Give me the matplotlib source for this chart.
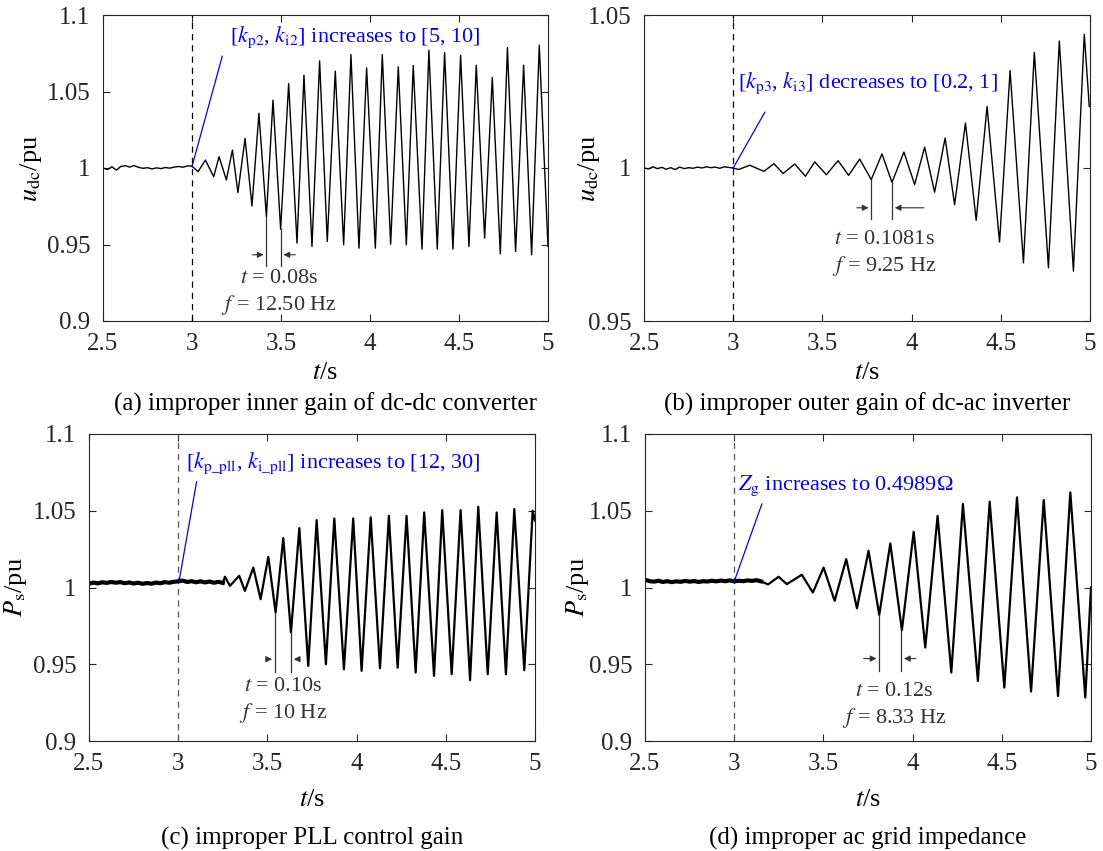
import numpy as np
import matplotlib
matplotlib.use('Agg')
import matplotlib.pyplot as plt
from matplotlib.ticker import FuncFormatter

plt.rcParams['font.family'] = 'serif'
plt.rcParams['font.serif'] = ['Liberation Serif', 'DejaVu Serif']
plt.rcParams['mathtext.fontset'] = 'stix'

# ---- data ----
# noise before the disturbance (sampled every 0.025 s)
noise_t_a = np.arange(2.5, 3.0001, 0.025)
noise_v_a = [1.0000, 0.9990, 1.0008, 0.9986, 1.0010, 1.0015, 1.0006, 1.0016, 1.0004, 0.9998, 1.0002,
             0.9994, 1.0001, 0.9996, 1.0003, 0.9999, 1.0006, 1.0010, 1.0005, 1.0014, 1.0012]
# peaks / troughs after the disturbance
osc_t_a = [3.034, 3.075, 3.122, 3.152, 3.193, 3.227, 3.258, 3.298, 3.337, 3.376, 3.418, 3.455, 3.498,
           3.543, 3.590, 3.629, 3.674, 3.717, 3.760, 3.805, 3.852, 3.893, 3.938, 3.981, 4.030, 4.069,
           4.116, 4.159, 4.204, 4.243, 4.292, 4.331, 4.378, 4.419, 4.466, 4.509, 4.556, 4.597, 4.644,
           4.687, 4.732, 4.772, 4.818, 4.863, 4.908, 4.951, 5.0]
osc_v_a = [0.9976, 1.0052, 0.9943, 1.0074, 0.9922, 1.0117, 0.9839, 1.0193, 0.9752, 1.0357, 0.9683,
           1.0443, 0.9600, 1.0552, 0.9509, 1.0607, 0.9487, 1.0700, 0.9520, 1.0633, 0.9498, 1.0741,
           0.9476, 1.0654, 0.9476, 1.0741, 0.9502, 1.0661, 0.9498, 1.0670, 0.9470, 1.0770, 0.9470,
           1.0754, 0.9470, 1.0737, 0.9487, 1.0672, 0.9541, 1.0591, 0.9439, 1.0787, 0.9454, 1.0672,
           0.9433, 1.0802, 0.9487]

noise_t_b = np.arange(2.5, 3.0001, 0.025)
noise_v_b = [1.0000, 0.9997, 1.0004, 0.9998, 1.0002, 0.9996, 1.0001, 0.9995, 1.0003, 0.9998, 1.0001,
             0.9999, 1.0003, 1.0000, 1.0004, 1.0001, 1.0003, 0.9999, 1.0004, 1.0002, 1.0000]
osc_t_b = [3.030, 3.093, 3.172, 3.228, 3.280, 3.345, 3.405, 3.457, 3.522, 3.588, 3.647, 3.709, 3.774,
           3.834, 3.890, 3.957, 4.017, 4.073, 4.129, 4.188, 4.241, 4.302, 4.362, 4.423, 4.493, 4.552,
           4.627, 4.688, 4.767, 4.828, 4.907, 4.968, 4.996]
osc_v_b = [0.9995, 1.0009, 0.9989, 1.0014, 0.9982, 1.0013, 0.9973, 1.0020, 0.9978, 1.0024, 0.9976,
           1.0029, 0.9962, 1.0046, 0.9953, 1.0052, 0.9946, 1.0068, 0.9921, 1.0098, 0.9880, 1.0147,
           0.9829, 1.0201, 0.9758, 1.0318, 0.9690, 1.0378, 0.9674, 1.0415, 0.9663, 1.0437, 1.0201]

noise_t_c = np.arange(2.5, 3.2501, 0.025)
noise_v_c = [1.0025, 1.0032, 1.0027, 1.0034, 1.0030, 1.0036, 1.0031, 1.0035, 1.0028, 1.0033, 1.0026,
             1.0031, 1.0024, 1.0029, 1.0025, 1.0032, 1.0028, 1.0035, 1.0031, 1.0037, 1.0040, 1.0045,
             1.0036, 1.0041, 1.0034, 1.0040, 1.0033, 1.0039, 1.0031, 1.0037, 1.0030]
osc_t_c = [3.262, 3.290, 3.342, 3.374, 3.421, 3.462, 3.505, 3.546, 3.589, 3.632, 3.679, 3.729, 3.776,
           3.828, 3.875, 3.929, 3.981, 4.028, 4.079, 4.131, 4.181, 4.230, 4.280, 4.331, 4.379, 4.434,
           4.480, 4.533, 4.583, 4.636, 4.682, 4.735, 4.785, 4.837, 4.884, 4.940, 4.987, 5.0]
osc_v_c = [1.0070, 1.0011, 1.0076, 0.9978, 1.0130, 0.9924, 1.0200, 0.9837, 1.0322, 0.9707, 1.0387,
           0.9489, 1.0439, 0.9500, 1.0450, 0.9467, 1.0450, 0.9457, 1.0457, 0.9474, 1.0467, 0.9478,
           1.0467, 0.9446, 1.0489, 0.9424, 1.0504, 0.9435, 1.0504, 0.9396, 1.0526, 0.9435, 1.0489,
           0.9435, 1.0511, 0.9461, 1.0500, 1.0435]

noise_t_d = np.arange(2.5, 3.1501, 0.025)
noise_v_d = [1.0050, 1.0042, 1.0038, 1.0044, 1.0036, 1.0041, 1.0035, 1.0040, 1.0037, 1.0043, 1.0038,
             1.0042, 1.0036, 1.0041, 1.0039, 1.0044, 1.0040, 1.0045, 1.0041, 1.0046, 1.0040, 1.0044,
             1.0041, 1.0046, 1.0043, 1.0048, 1.0040]
osc_t_d = [3.190, 3.249, 3.295, 3.379, 3.441, 3.501, 3.563, 3.628, 3.688, 3.753, 3.813, 3.875, 3.940,
           4.006, 4.071, 4.140, 4.217, 4.282, 4.366, 4.432, 4.514, 4.585, 4.664, 4.735, 4.815, 4.884,
           4.968, 5.0]
osc_v_d = [1.0020, 1.0070, 1.0022, 1.0083, 0.9967, 1.0130, 0.9913, 1.0185, 0.9865, 1.0239, 0.9822,
           1.0287, 0.9722, 1.0363, 0.9609, 1.0467, 0.9446, 1.0544, 0.9391, 1.0559, 0.9348, 1.0587,
           0.9322, 1.0570, 0.9293, 1.0620, 0.9283, 1.0000]

x_ticks = [2.5, 3, 3.5, 4, 4.5, 5]
y_ticks_wide = [0.9, 0.95, 1, 1.05, 1.1]
y_ticks_narrow = [0.95, 1, 1.05]

BLUE = '#0000ff'
GRAY = '#333333'
FS = 16     # annotation text
FS_AX = 18  # ticks, axis labels, captions


def draw_panel(ax, noise_t, noise_v, osc_t, osc_v, lw_noise, lw_osc, ylim, yticks, ylabel, vline_color,
               ylab_x, xlab_y):
    # the dashed line marks the parameter change at t = 3 s
    ax.axvline(3, color=vline_color, ls=(0, (5, 4)), lw=0.9)
    ax.plot(noise_t, noise_v, color='k', lw=lw_noise)
    ax.plot([noise_t[-1]] + list(osc_t), [noise_v[-1]] + list(osc_v), color='k', lw=lw_osc)
    ax.set_xlim(2.5, 5)
    ax.set_ylim(*ylim)
    ax.set_xticks(x_ticks)
    ax.set_yticks(yticks)
    ax.xaxis.set_major_formatter(FuncFormatter(lambda v, p: '%g' % v))
    ax.yaxis.set_major_formatter(FuncFormatter(lambda v, p: '%g' % v))
    ax.tick_params(direction='in', top=True, right=True, length=5, width=0.8,
                   labelsize=FS_AX, colors='#262626', pad=9)
    for s in ax.spines.values():
        s.set_color('#262626')
        s.set_linewidth(0.8)
    ax.set_xlabel(r'$t$/s', fontsize=FS_AX + 1)
    ax.set_ylabel(ylabel, fontsize=FS_AX + 1)
    ax.yaxis.set_label_coords(ylab_x, 0.5)
    ax.xaxis.set_label_coords(0.5, xlab_y)


def draw_period(ax, t1, t2, v1, v2, v_low, v_arrow, left_start, right_start, t_text, v_text1, v_text2,
                txt1, txt2):
    # two vertical markers at neighbouring troughs with inward arrows and the period text
    ax.plot([t1, t1], [v1, v_low], color=GRAY, lw=0.9)
    ax.plot([t2, t2], [v2, v_low], color=GRAY, lw=0.9)
    ax.annotate('', xy=(t1, v_arrow), xytext=(left_start, v_arrow),
                arrowprops=dict(arrowstyle='-|>', color=GRAY, lw=0.8, mutation_scale=9))
    ax.annotate('', xy=(t2, v_arrow), xytext=(right_start, v_arrow),
                arrowprops=dict(arrowstyle='-|>', color=GRAY, lw=0.8, mutation_scale=9))
    ax.text(t_text, v_text1, txt1, ha='center', va='center', fontsize=FS, color=GRAY)
    ax.text(t_text, v_text2, txt2, ha='center', va='center', fontsize=FS, color=GRAY)


def draw_note(ax, text, t_text, v_text, line_from, line_to):
    ax.plot([line_from[0], line_to[0]], [line_from[1], line_to[1]], color=BLUE, lw=0.9)
    ax.text(t_text, v_text, text, ha='left', va='center', fontsize=FS, color=BLUE)


fig = plt.figure(figsize=(11.03, 8.51), dpi=100)
W, H = 1103.0, 851.0
ax_a = fig.add_axes([103 / W, 1 - 321 / H, 445 / W, 306 / H])
ax_b = fig.add_axes([644 / W, 1 - 321 / H, 446 / W, 306 / H])
ax_c = fig.add_axes([89 / W, 1 - 741 / H, 446 / W, 307 / H])
ax_d = fig.add_axes([645 / W, 1 - 741 / H, 446 / W, 307 / H])

draw_panel(ax_a, noise_t_a, noise_v_a, osc_t_a, osc_v_a, 1.0, 1.0, (0.9, 1.1), y_ticks_wide,
           r'$u_{\mathrm{dc}}$/pu', 'k', -0.133, -0.135)
draw_panel(ax_b, noise_t_b, noise_v_b, osc_t_b, osc_v_b, 1.0, 1.0, (0.95, 1.05), y_ticks_narrow,
           r'$u_{\mathrm{dc}}$/pu', 'k', -0.094, -0.135)
draw_panel(ax_c, noise_t_c, noise_v_c, osc_t_c, osc_v_c, 3.0, 1.6, (0.9, 1.1), y_ticks_wide,
           r'$P_{\mathrm{s}}$/pu', '#555555', -0.135, -0.155)
draw_panel(ax_d, noise_t_d, noise_v_d, osc_t_d, osc_v_d, 3.0, 1.6, (0.9, 1.1), y_ticks_wide,
           r'$P_{\mathrm{s}}$/pu', '#555555', -0.12, -0.155)

draw_note(ax_a, r'[$k_{\mathrm{p2}}$, $k_{\mathrm{i2}}$] increases to [5, 10]', 3.212, 1.0857,
          (3.170, 1.073), (3.0, 1.001))
draw_note(ax_b, r'[$k_{\mathrm{p3}}$, $k_{\mathrm{i3}}$] decreases to [0.2, 1]', 3.028, 1.0277,
          (3.177, 1.0182), (3.0, 1.0))
draw_note(ax_c, r'[$k_{\mathrm{p\_pll}}$, $k_{\mathrm{i\_pll}}$] increases to [12, 30]', 3.043, 1.0809,
          (3.103, 1.0689), (3.006, 1.0048))
draw_note(ax_d, r'$Z_{\mathrm{g}}$ increases to 0.4989Ω', 3.019, 1.0663,
          (3.155, 1.0544), (3.0, 1.0039))

draw_period(ax_a, 3.418, 3.498, 0.9683, 0.9600, 0.9357, 0.9433, 3.324, 3.596, 3.489, 0.928, 0.9107,
            r'$t$ = 0.08s', r'$f$ = 12.50 Hz')
draw_period(ax_b, 3.774, 3.890, 0.9962, 0.9953, 0.9832, 0.9870, 3.677, 4.085, 3.849, 0.9766, 0.9679,
            r'$t$ = 0.1081s', r'$f$ = 9.25 Hz')
draw_period(ax_c, 3.542, 3.632, 0.9837, 0.9707, 0.9452, 0.9533, 3.477, 3.695, 3.589, 0.9354, 0.9185,
            r'$t$ = 0.10s', r'$f$ = 10 Hz')
draw_period(ax_d, 3.813, 3.936, 0.9822, 0.9722, 0.9457, 0.9537, 3.710, 4.034, 3.899, 0.9322, 0.9152,
            r'$t$ = 0.12s', r'$f$ = 8.33 Hz')

# captions under each panel
fig.text(325 / W, 1 - 404 / H, '(a) improper inner gain of dc-dc converter', ha='center', va='center', fontsize=FS_AX)
fig.text(867 / W, 1 - 404 / H, '(b) improper outer gain of dc-ac inverter', ha='center', va='center', fontsize=FS_AX)
fig.text(312 / W, 1 - 838 / H, '(c) improper PLL control gain', ha='center', va='center', fontsize=FS_AX)
fig.text(868 / W, 1 - 838 / H, '(d) improper ac grid impedance', ha='center', va='center', fontsize=FS_AX)

fig.savefig('out.png', dpi=100)
